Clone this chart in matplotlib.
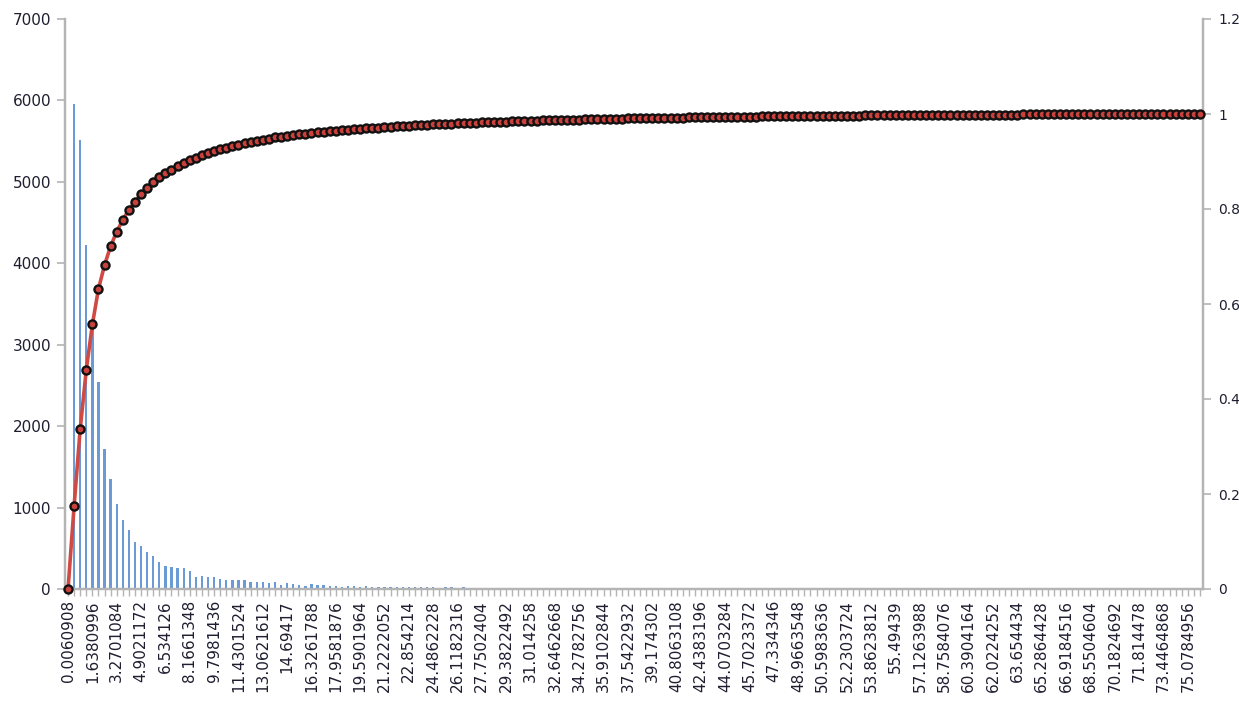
import numpy as np
import matplotlib
matplotlib.use("Agg")
import matplotlib.pyplot as plt

# Labelled bin edges (every 4th bin is labelled on the category axis)
edge_labels = [
    "0.0060908", "1.6380996", "3.2701084", "4.9021172", "6.534126", "8.1661348",
    "9.7981436", "11.4301524", "13.0621612", "14.69417", "16.3261788", "17.9581876",
    "19.5901964", "21.2222052", "22.854214", "24.4862228", "26.1182316", "27.7502404",
    "29.3822492", "31.014258", "32.6462668", "34.2782756", "35.9102844", "37.5422932",
    "39.174302", "40.8063108", "42.4383196", "44.0703284", "45.7023372", "47.334346",
    "48.9663548", "50.5983636", "52.2303724", "53.8623812", "55.49439", "57.1263988",
    "58.7584076", "60.3904164", "62.0224252", "63.654434", "65.2864428", "66.9184516",
    "68.5504604", "70.1824692", "71.814478", "73.4464868", "75.0784956",
]
label_every = 4

# Frequency per bin
head_counts = [
    0,
    5960, 5510, 4230, 3240, 2540, 1715, 1345, 1045, 845, 725,
    580, 530, 460, 405, 335, 285, 265, 260, 255, 215,
    145, 160, 150, 150, 120, 110, 110, 110, 105, 90,
    90, 90, 70, 90, 50, 70,
]
mid_counts = [
    57, 45, 40, 57, 49, 45, 38, 33, 30, 35, 33, 30, 33, 29, 25, 28, 30, 25, 28,
    24, 22, 25, 20, 21, 18, 22, 19, 17, 20, 16, 18, 15, 17, 14, 16, 15, 13, 14,
    12, 15, 13, 11, 12, 13, 10, 12, 11, 10, 11, 9, 10, 9,
]
tail_counts = [
    9, 8, 10, 8, 7, 9, 8, 7, 8, 6, 7, 8, 7, 6, 7, 6, 8, 6, 5, 7, 6, 5, 6, 5, 6, 5,
    4, 6, 5, 4, 5, 4,
    5, 4, 4, 5, 3, 4, 4, 3, 5, 4, 3, 4, 3, 3, 4, 3, 2, 3, 4, 3, 2, 3, 3, 2, 3, 2,
    3, 2, 2, 3, 2, 2, 3,
    2, 3, 2, 2, 1, 2, 2, 1, 2, 2, 1, 2, 1, 1, 2, 1, 1, 2, 1, 1, 1, 2, 1, 1, 1, 1,
    1, 0, 1, 1, 1, 0, 1,
]
counts = np.array(head_counts + mid_counts + tail_counts, dtype=float)
n_bins = len(counts)
cumulative = np.cumsum(counts) / counts.sum()

W, H, DPI = 1239, 709, 100
fig = plt.figure(figsize=(W / DPI, H / DPI), dpi=DPI)
ax = fig.add_axes([65 / W, 1 - 589 / H, (1203 - 65) / W, (589 - 19) / H])
ax2 = ax.twinx()

axis_grey = "#b4b4b4"
text_col = "#1e1e30"
bar_col = "#6b9bd7"
line_col = "#cf4a45"

x = np.arange(n_bins)
ax.bar(x, counts, width=0.38, color=bar_col, zorder=2)
ax.set_xlim(-0.5, n_bins - 0.5)
ax.set_ylim(0, 7000)
ax.set_yticks(np.arange(0, 7001, 1000))

ax2.plot(x, cumulative, color=line_col, lw=2.6, zorder=3,
         marker="o", markersize=5.8, markerfacecolor="#c8413c",
         markeredgecolor="#111111", markeredgewidth=1.7, clip_on=False)
ax2.set_ylim(0, 1.2)
ax2.set_yticks([0, 0.2, 0.4, 0.6, 0.8, 1.0, 1.2])
ax2.set_yticklabels(["0", "0.2", "0.4", "0.6", "0.8", "1", "1.2"])

# Category axis: a tick per bin, labels every 4th bin
ticklabels = [""] * n_bins
for k, lab in enumerate(edge_labels):
    ticklabels[k * label_every] = lab
ax.set_xticks(x)
ax.set_xticklabels(ticklabels, rotation=90, fontsize=11, color=text_col)

for a in (ax, ax2):
    a.spines["top"].set_visible(False)
    for s in ("left", "right", "bottom"):
        a.spines[s].set_color(axis_grey)
        a.spines[s].set_linewidth(1.6)
ax.tick_params(axis="y", colors=axis_grey, labelcolor=text_col,
               length=6, width=1.2, labelsize=11, pad=4)
ax2.tick_params(axis="y", colors=axis_grey, labelcolor=text_col,
                length=6, width=1.2, labelsize=10, pad=5)
ax.tick_params(axis="x", colors=axis_grey, labelcolor=text_col,
               length=5, width=1.0, pad=3)
ax.set_facecolor("white")
ax2.patch.set_visible(False)

fig.savefig("out.png", dpi=DPI, facecolor="white")
